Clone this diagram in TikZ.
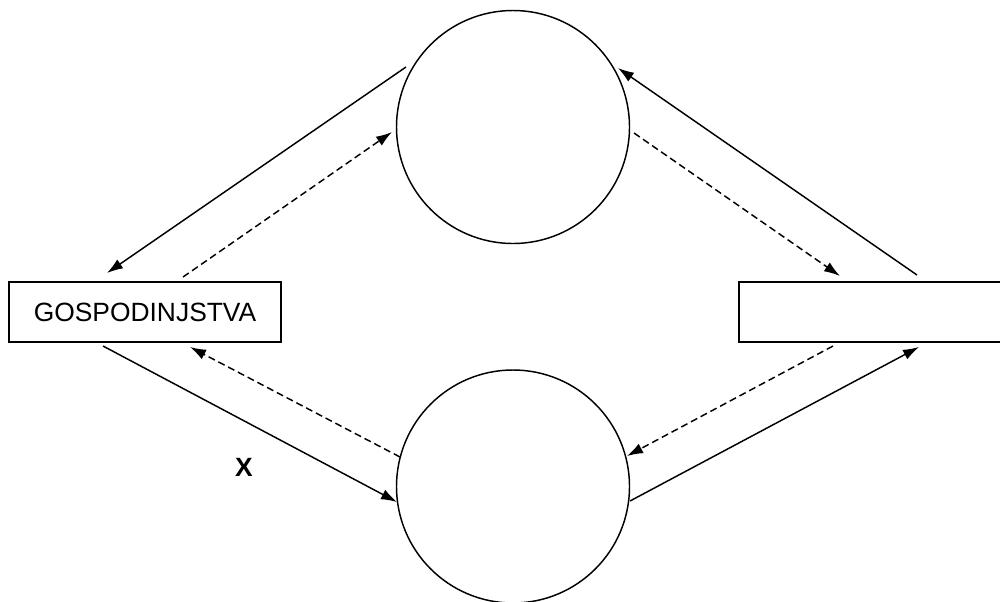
\documentclass[tikz,border=0pt]{standalone}
\usepackage{fontspec}
\setmainfont{Liberation Sans}
\usetikzlibrary{arrows.meta,calc}

\begin{document}
\begin{tikzpicture}[x=0.75pt,y=0.75pt,line width=1.1pt]
        \tikzstyle{every node}=[draw,inner sep=0pt,font=\fontsize{19.8}{24}\selectfont]
        \tikzstyle{krug}=[circle,minimum size=174.75pt]
        \tikzstyle{kutija}=[rectangle,minimum width=204pt,minimum height=45pt]
        \tikzstyle{tok}=[-{Latex[length=12pt,width=8pt]}]
        \tikzstyle{crtkano}=[tok,dash pattern=on 5.25pt off 3pt]
        \clip (0,0) rectangle (1000,-601);
        \node[krug] (gore) at (513,-127) {};
        \node[krug] (dolje) at (513,-486.5) {};
        \node[kutija] (gosp) at (145,-312) {GOSPODINJSTVA};
        \node[kutija] (desno) at (875,-312) {};
        \node[draw=none,font=\fontsize{19.8}{24}\selectfont\bfseries] (iks) at (244,-467) {X};
        \draw[tok] ($(gore)+(-107,60)$) -- ($(gosp)+(-38,39)$);
        \draw[crtkano] ($(gosp)+(38,35)$) -- ($(gore)+(-121,-5)$);
        \draw[tok] ($(desno)+(42,37)$) -- ($(gore)+(105,59)$);
        \draw[crtkano] ($(gore)+(121,-6)$) -- ($(desno)+(-35,36)$);
        \draw[tok] ($(gosp)+(-42,-34)$) -- ($(dolje)+(-116,-15.5)$);
        \draw[crtkano] ($(dolje)+(-113,29.5)$) -- ($(gosp)+(45,-35)$);
        \draw[crtkano] ($(desno)+(-42,-34)$) -- ($(dolje)+(114,30.5)$);
        \draw[tok] ($(dolje)+(117,-14.5)$) -- ($(desno)+(44,-35)$);
    \end{tikzpicture}
\end{document}
